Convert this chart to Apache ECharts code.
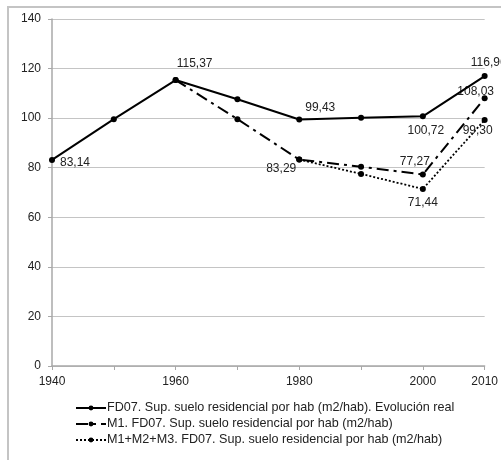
<!DOCTYPE html>
<html>
<head>
<meta charset="utf-8">
<script src="https://cdn.jsdelivr.net/npm/echarts@6/dist/echarts.min.js"></script>
<style>html,body{margin:0;padding:0;background:#fff}#c{width:501px;height:460px}</style>
</head>
<body>
<div id="c"></div>
<script>
var years = ['1940','1950','1960','1970','1980','1990','2000','2010'];
var shownYearLabels = ['1940','1960','1980','2000','2010'];
var seriesNames = [
  'FD07. Sup. suelo residencial por hab (m2/hab). Evolución real',
  'M1. FD07. Sup. suelo residencial por hab (m2/hab)',
  'M1+M2+M3. FD07. Sup. suelo residencial por hab (m2/hab)'
];
var realValues = [83.14, 99.6, 115.37, 107.6, 99.43, 100.2, 100.72, 116.96];
var m1Values = [null, null, 115.37, 99.6, 83.29, 80.4, 77.27, 108.03];
var m123Values = [null, null, null, null, 83.29, 77.5, 71.44, 99.30];
var yTicks = [0, 20, 40, 60, 80, 100, 120, 140];

// which points carry a value label, and where the label sits (style only)
var labelStyles = [
  {0: {position: 'right', offset: [0, 3]}, 2: {position: 'top', offset: [19, -2]}, 4: {position: 'top', offset: [21, 2]}, 6: {position: 'bottom', offset: [3, 0]}, 7: {position: 'top', offset: [4, 1]}},
  {4: {position: 'left', offset: [5, 9]}, 6: {position: 'top', offset: [-8, 1]}, 7: {position: 'top', offset: [-9, 7]}},
  {6: {position: 'bottom', offset: [0, 0]}, 7: {position: 'bottom', offset: [-7, -3]}}
];

function fmt(v) { return v.toFixed(2).replace('.', ','); }
function buildData(values, styles) {
  return values.map(function (v, i) {
    var s = styles[i];
    if (!s || v == null) return v;
    return {
      value: v,
      label: {show: true, position: s.position, offset: s.offset, formatter: fmt(v),
        color: '#222', fontSize: 12, fontFamily: 'Liberation Sans, Arial, sans-serif', distance: 5}
    };
  });
}
var lineTypes = ['solid', [12, 5, 3, 5], [2, 2]];
var lineWidths = [2, 2, 1.8];
var allValues = [realValues, m1Values, m123Values];

var series = [2, 1, 0].map(function (k) {
  return {
    name: seriesNames[k],
    type: 'line',
    data: buildData(allValues[k], labelStyles[k]),
    symbol: 'circle',
    symbolSize: 6,
    color: '#000',
    lineStyle: {color: '#000', width: lineWidths[k], type: lineTypes[k]},
    itemStyle: {color: '#000'},
    z: 3 + (2 - k),
    animation: false
  };
});

var chart = echarts.init(document.getElementById('c'), null, {renderer: 'canvas'});
chart.setOption({
  animation: false,
  backgroundColor: '#fff',
  textStyle: {fontFamily: 'Liberation Sans, Arial, sans-serif'},
  graphic: [{
    type: 'polyline', silent: true,
    shape: {points: [[8, 470], [8, 7], [510, 7]]},
    style: {stroke: '#c4c4c4', lineWidth: 2, fill: null}
  }],
  grid: {left: 52, right: 16, top: 19, bottom: 94, containLabel: false},
  legend: {
    orient: 'vertical', left: 75, top: 401, padding: 0, itemGap: 2, itemWidth: 30, itemHeight: 6,
    data: seriesNames,
    textStyle: {color: '#222', fontSize: 12.6, lineHeight: 14, fontFamily: 'Liberation Sans, Arial, sans-serif', padding: [0, 0, 0, -4]}
  },
  xAxis: {
    type: 'category', data: years, boundaryGap: false,
    axisLine: {lineStyle: {color: '#a8a8a8', width: 1.5}},
    axisTick: {show: true, interval: 0, length: 4, lineStyle: {color: '#a8a8a8'}},
    axisLabel: {interval: 0, color: '#222', fontSize: 12, margin: 10,
      formatter: function (v) { return shownYearLabels.indexOf(v) >= 0 ? v : ''; }},
    splitLine: {show: false}
  },
  yAxis: {
    type: 'value', min: yTicks[0], max: yTicks[yTicks.length - 1], interval: 20,
    axisLine: {show: true, lineStyle: {color: '#a8a8a8', width: 1.5}},
    axisTick: {show: true, length: 4, lineStyle: {color: '#a8a8a8'}},
    axisLabel: {color: '#222', fontSize: 12, margin: 11},
    splitLine: {lineStyle: {color: '#c4c4c4', width: 1.2}}
  },
  series: series
});
</script>
</body>
</html>
